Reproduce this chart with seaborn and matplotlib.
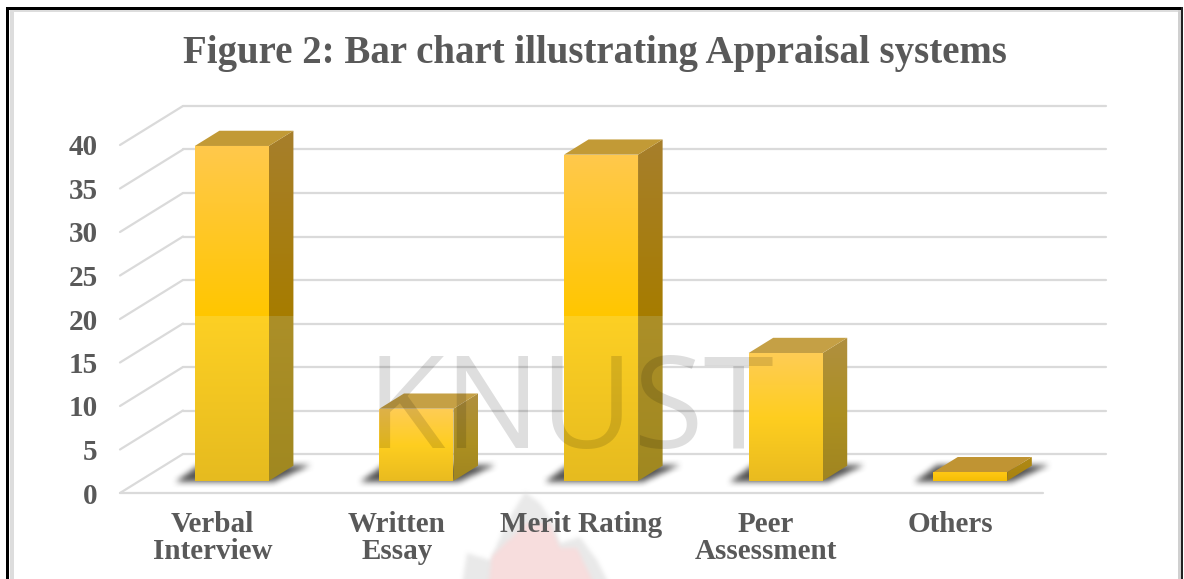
import numpy as np
import matplotlib
matplotlib.use('Agg')
import matplotlib.pyplot as plt
from matplotlib.colors import to_rgb
from matplotlib.lines import Line2D
from matplotlib.path import Path
from matplotlib.patches import Polygon, Rectangle
from matplotlib.transforms import IdentityTransform
import seaborn as sns

# values
systems = ['Verbal\nInterview', 'Written\nEssay', 'Merit Rating', 'Peer\nAssessment', 'Others']
values = [38.5, 8.3, 37.5, 14.7, 1.0]
y_ticks = [0, 5, 10, 15, 20, 25, 30, 35, 40]
title = 'Figure 2: Bar chart illustrating Appraisal systems'

W, H = 1184, 579
GREY = '#595959'
SERIF = 'Liberation Serif'
# fake 3d: how far the back wall sits from the front plane, in pixels
DEPTH_X, DEPTH_Y = 63, 39
FRONT, BACK = 0.31, 0.70
GLOSS_AT = 19

sns.set_theme(style='white')
fig = plt.figure(figsize=(W / 100, H / 100), dpi=100)
fig.patch.set_facecolor('white')
ax = fig.add_axes([120 / W, (H - 493) / H, 923 / W, 348 / H])
ax.patch.set_visible(False)

sns.barplot(x=systems, y=values, color='#FFC600', width=0.401, saturation=1, ax=ax, zorder=0.5)
ax.set_xlim(-0.5, 4.5)
ax.set_ylim(0, 40)
ax.autoscale(False)
sns.despine(ax=ax, left=True, bottom=True)
ax.set_xlabel('')
ax.set_ylabel('')
ax.set_yticks(y_ticks)
ax.tick_params(axis='y', length=0, pad=16, labelsize=21, labelcolor=GREY)
ax.tick_params(axis='x', length=0, pad=13, labelsize=21, labelcolor=GREY)
for lab in ax.get_xticklabels():
    lab.set_fontfamily(SERIF)
    lab.set_fontweight('bold')
    lab.set_linespacing(1.0)
for lab in ax.get_yticklabels():
    lab.set_fontfamily(SERIF)
    lab.set_fontweight('bold')


def P(x, v, depth=0.0):
    pt = ax.transData.transform((x, v))
    return (pt[0] + depth * DEPTH_X, pt[1] + depth * DEPTH_Y)


def px(x, y):
    return (x, H - y)


def face(verts, stops, z):
    # polygon filled with a vertical gradient, stops are (display y, colour)
    verts = np.array(verts)
    x0, x1 = verts[:, 0].min(), verts[:, 0].max()
    y0, y1 = verts[:, 1].min(), verts[:, 1].max()
    rows = np.arange(int(y0) - 1, int(y1) + 2) + 0.5
    ys = [s[0] for s in stops]
    rgb = np.array([to_rgb(s[1]) for s in stops])
    grad = np.stack([np.interp(rows, ys, rgb[:, i]) for i in range(3)], axis=1)[:, None, :]
    im = ax.imshow(grad, extent=(x0, x1, rows[0] - 0.5, rows[-1] + 0.5), origin='lower',
                   aspect='auto', transform=IdentityTransform(), zorder=z, interpolation='nearest')
    im.set_clip_box(fig.bbox)  # faces stick out above the axes
    im.set_clip_path(Polygon(verts, closed=True, transform=IdentityTransform()))


def soft(verts, colour, alpha, blur, z):
    # blurred polygon, used for the shadows and the flame
    verts = np.array(verts)
    pad = blur * 3
    x0, y0 = np.floor(verts.min(axis=0)).astype(int) - pad
    x1, y1 = np.ceil(verts.max(axis=0)).astype(int) + pad
    xx, yy = np.meshgrid(np.arange(x0, x1) + 0.5, np.arange(y0, y1) + 0.5)
    inside = Path(verts).contains_points(np.c_[xx.ravel(), yy.ravel()]).reshape(xx.shape).astype(float)
    kernel = np.ones(2 * blur + 1) / (2 * blur + 1)
    for _ in range(2):
        inside = np.apply_along_axis(np.convolve, 0, inside, kernel, mode='same')
        inside = np.apply_along_axis(np.convolve, 1, inside, kernel, mode='same')
    img = np.zeros(inside.shape + (4,))
    img[..., :3] = to_rgb(colour)
    img[..., 3] = inside * alpha
    im = ax.imshow(img, extent=(x0, x1, y0, y1), origin='lower', aspect='auto',
                   transform=IdentityTransform(), zorder=z, interpolation='nearest')
    im.set_clip_box(fig.bbox)


def line(a, b):
    ax.add_line(Line2D([a[0], b[0]], [a[1], b[1]], color='#dadada', lw=1.6,
                       transform=IdentityTransform(), zorder=1, clip_on=False))


# flame watermark below the chart
soft([px(525, 492), px(540, 503), px(553, 523), px(560, 543), px(580, 537), px(597, 560), px(612, 590),
      px(461, 590), px(467, 553), px(490, 560), px(508, 520)], '#e4e4e4', 0.8, 2, 0.1)
soft([px(527, 523), px(550, 523), px(560, 548), px(577, 548), px(597, 590), px(488, 590), px(492, 556)],
     '#fcd9d9', 0.75, 2, 0.2)

# walls and floor
for v in y_ticks:
    line(P(-0.5, v), P(-0.5, v, 1))
    line(P(-0.5, v, 1), P(4.5, v, 1))
line(P(-0.5, 0), P(4.5, 0))

for bar, val in zip(ax.containers[0], values):
    left, right = bar.get_x(), bar.get_x() + bar.get_width()
    bar.set_visible(False)  # gradient faces below are drawn from the same rectangle

    fl, fr = P(left, 0, FRONT), P(right, 0, FRONT)
    top = P(left, val, FRONT)[1]
    gloss = P(left, GLOSS_AT, FRONT)[1]
    dx, dy = (BACK - FRONT) * DEPTH_X, (BACK - FRONT) * DEPTH_Y
    y0, y1 = fl[1], top

    # soft shadow on the floor
    soft([(fl[0] - 19, fl[1] - 1), (fr[0] + 5, fr[1] - 1), (fr[0] + 42, fr[1] + 16), (fl[0] + 4, fr[1] + 16)],
         '#383838', 0.85, 3, 1.5)

    rise = y1 - y0
    if val > GLOSS_AT * 1.5:
        front_stops = [(y0, '#E6BB1F'), (gloss, '#FDD024'), (gloss + 0.01, '#FFC600'), (y1, '#FFC94C')]
        side_stops = [(y0, '#A08820'), (gloss, '#AC8F28'), (gloss + 0.01, '#A67C00'), (y1 + dy, '#A67F2C')]
        top_col = '#C29A36'
    elif val > 2:
        front_stops = [(y0, '#E9BB1F'), (y0 + rise * 0.5, '#FECE20'), (y1, '#FFCC55')]
        side_stops = [(y0, '#A08520'), (y0 + rise * 0.5, '#AC8F20'), (y1 + dy, '#B09040')]
        top_col = '#C5A045'
    else:
        front_stops = [(y0, '#F5BE05'), (y1, '#FFC814')]
        side_stops = [(y0, '#A8820F'), (y1 + dy, '#B08A15')]
        top_col = '#C09433'

    face([fr, (fr[0] + dx, fr[1] + dy), (fr[0] + dx, y1 + dy), (fr[0], y1)], side_stops, 3.1)
    face([fl, fr, (fr[0], y1), (fl[0], y1)], front_stops, 3.2)
    ax.add_patch(Polygon([(fl[0], y1), (fr[0], y1), (fr[0] + dx, y1 + dy), (fl[0] + dx, y1 + dy)],
                         closed=True, facecolor=top_col, edgecolor='none',
                         transform=IdentityTransform(), zorder=3.1, clip_on=False))

# title
fig.text(595 / W, (H - 53) / H, title, ha='center', va='center', fontsize=28,
         fontweight='bold', family=SERIF, color=GREY)

# university watermark on top of the bars
fig.text(570 / W, (H - 415) / H, 'KNUST', ha='center', va='center', fontsize=92,
         family='Open Sans', color='black', alpha=0.13, zorder=5)

# picture frame
for x, y, w, h, col in [(10, 9, 4, H, '#dddddd'), (10, 9, 1170, 3, '#dddddd'), (1178, 9, 3, H, '#d0d0d0'),
                        (6, 7, 3, H, 'black'), (6, 7, 1176, 2.5, 'black'), (1181, 7, 2, H, '#222222')]:
    fig.add_artist(Rectangle(px(x, y + h), w, h, facecolor=col, edgecolor='none',
                             transform=IdentityTransform(), zorder=-1))

fig.savefig('out.png', dpi=100)
